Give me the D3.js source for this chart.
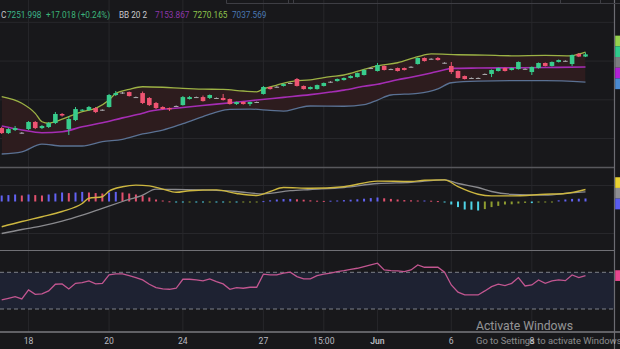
<!DOCTYPE html>
<html>
<head>
<meta charset="utf-8">
<script src="https://cdn.jsdelivr.net/npm/d3@7"></script>
<style>
  html, body { margin: 0; padding: 0; background: #18181b; overflow: hidden; }
  svg { display: block; }
  text { font-family: Roboto, "Noto Sans", sans-serif; }
</style>
</head>
<body>
<svg id="chart" width="620" height="349"></svg>
<script>
// ---------- price bars (one entry per bar) ----------
const opens = [6681,6642,6666,6645,6673,6728,6681,6689,6720,6790,
  6673,6743,6817,6821,6836,6823,6844,6937,6952,6960,
  6921,6952,6914,6875,6844,6836,6848,6859,6906,6921,
  6921,6914,6914,6914,6906,6867,6883,6867,6880,6945,
  6999,6997,7007,7028,7061,7007,6983,6983,7007,7036,
  7045,7053,7069,7076,7092,7142,7123,7162,7136,7146,
  7146,7152,7177,7224,7214,7224,7187,7162,7123,7084,
  7067,7069,7098,7100,7123,7146,7131,7138,7140,7115,
  7146,7185,7162,7193,7202,7177,7255,7234.98];
const highs = [6689,6681,6697,6650,6735,6735,6704,6728,6805,6797,
  6774,6844,6828,6852,6844,6826,6945,6968,6960,6964,
  6925,6964,6921,6883,6850,6840,6856,6929,6929,6925,
  6933,6941,6918,6945,6910,6886,6887,6886,6886,7007,
  7003,7005,7026,7034,7069,7011,7003,7018,7034,7044,
  7065,7073,7090,7111,7135,7150,7185,7166,7142,7150,
  7150,7160,7228,7228,7222,7231,7191,7193,7127,7088,
  7073,7073,7104,7135,7150,7150,7150,7197,7144,7158,
  7189,7189,7197,7212,7206,7251,7262,7266];
const lows = [6635,6635,6658,6638,6666,6673,6673,6681,6712,6770,
  6627,6735,6813,6813,6797,6815,6840,6929,6945,6925,
  6914,6867,6852,6828,6824,6813,6846,6855,6902,6914,
  6886,6906,6910,6894,6863,6860,6863,6852,6878,6940,
  6979,6995,7003,7026,7003,6979,6979,6979,7003,7032,
  7041,7049,7065,7072,7088,7138,7119,7127,7133,7119,
  7127,7150,7173,7196,7212,7204,7180,7100,7065,7057,
  7065,7063,7096,7076,7119,7119,7127,7134,7134,7092,
  7142,7158,7158,7189,7196,7162,7231,7231];
const closes = [6642,6673,6681,6642,6728,6681,6697,6720,6790,6778,
  6751,6828,6823,6844,6805,6819,6937,6952,6956,6929,
  6917,6875,6859,6836,6828,6826,6852,6921,6921,6919,
  6890,6937,6912,6898,6867,6883,6867,6883,6883,6999,
  6983,7001,7022,7030,7007,6983,6999,7014,7030,7040,
  7061,7069,7084,7107,7131,7146,7169,7131,7138,7123,
  7131,7156,7224,7200,7218,7208,7183,7115,7069,7061,
  7069,7067,7100,7131,7146,7123,7146,7193,7138,7154,
  7185,7162,7193,7208,7200,7247,7234.98,7251.998];

// ---------- Bollinger Bands (20, 2): [bar, value] ----------
const bbUpper = [[0,6924],[3,6873],[5,6795],[6,6730],[7,6718],[8,6730],[10,6769],[12,6808],
  [14,6834],[16,6898],[17,6950],[19,6981],[21,7001],[24,6997],[27,6989],[30,6983],[33,6980],
  [36,6968],[38,6962],[39,6985],[41,7014],[43,7040],[46,7055],[49,7079],[51,7092],[54,7136],
  [56,7162],[59,7187],[62,7234],[64,7255],[68,7249],[72,7246],[76,7241],[81,7244],[85,7241],
  [86,7255],[87,7270.165]];
const bbBasis = [[0,6697],[3,6666],[6,6645],[9,6652],[12,6691],[15,6722],[18,6760],[21,6795],
  [22,6811],[27,6840],[32,6866],[37,6893],[42,6919],[46,6940],[49,6960],[51,6975],[54,7005],
  [56,7020],[59,7055],[61,7075],[64,7108],[66,7132],[67,7143],[71,7146],[76,7148],[81,7150],
  [87,7153.867]];
const bbLower = [[0,6480],[3,6497],[6,6557],[9,6542],[12,6542],[15,6575],[18,6594],[21,6635],
  [24,6665],[27,6715],[30,6770],[32,6805],[34,6826],[37,6828],[40,6818],[42,6812],[44,6834],
  [46,6852],[51,6850],[54,6862],[56,6898],[58,6937],[62,6950],[65,6985],[67,7032],[71,7045],
  [76,7048],[81,7048],[87,7037.569]];

// ---------- MACD ----------
const macdLine = [[0,-63],[3,-50],[6,-38],[9,-25],[12,-5],[13,8],[15,12],[16,26],[18,37],[20,41],
  [22,39],[24,31],[26,23],[28,27],[32,29],[35,20],[38,15],[40,25],[42,35],[46,33],[51,37],
  [56,51],[61,50],[63,53],[66,54],[68,37],[71,18],[73,14],[76,14],[81,18],[84,20],[87,30]];
const signalLine = [[0,-80],[3,-70],[6,-61],[9,-49],[12,-34],[15,-17],[18,0],[21,16],[23,31],
  [26,30],[30,29],[35,25],[39,19],[43,27],[46,30],[51,35],[56,45],[61,48],[66,54],[68,45],
  [71,35],[73,25],[76,18],[81,16],[85,22],[87,24]];
const histogram = [15,16,17.5,15,17.5,16,15,17.5,20,22.5,
  21,22.5,24,22.5,21,20,22.5,24,22.5,20,
  17.5,15,10,5,2.5,0.5,-1,-1.5,-1,-1.5,
  -2,-1.5,-2,-2.5,-2,-2.5,-2,-1.5,-1,1,
  3,5,6,6.5,5.5,4.5,3,2,1.5,2,
  2.5,3.5,4.5,5.5,7,8.5,10,8,6.5,5,
  3.5,3,2.5,2.5,2,1,-1.5,-7.5,-14,-20,
  -20.5,-22.5,-19,-14,-11,-7.5,-7,-5,-3.5,-4,
  -2,-1.5,-0.5,3,5,6.5,7,7.5];

// ---------- RSI (14) ----------
const rsi = [39.9,41.7,43.5,41,50.8,46,46.4,49.7,57,57.3,
  51.9,58,58.7,60.6,57.3,58,67.1,68.2,68.2,66.4,
  64.2,61.7,57,53.3,51.9,51.5,52.6,62.4,62.4,61.7,
  60.6,62.8,59.8,57.3,51.5,53.3,52.6,53.7,53.7,67.9,
  67.1,67.1,69,70.1,65.3,62.8,62.8,66.4,67.9,69,
  70.7,71.8,73.3,74.4,76.2,78,79.9,72.6,71.8,71.5,
  70.7,72.6,78,75.5,75.5,75.5,70.1,56.2,48.3,45.3,
  45.3,45.3,49.7,54.4,57,55.5,58,64.2,55.1,56.2,
  61.7,58,60.6,61.7,60.9,67.1,64.2,66.4];
const rsiBands = [70, 30];

// ---------- axes ----------
const timeTickBars = [4, 16, 27, 39, 48, 56, 67, 79];
const timeTickLabels = ["18", "20", "24", "27", "15:00", "Jun", "6", "8"];
const priceTicks = [6600, 6900, 7200, 7500];
const macdTicks = [40, -80];

// ---------- layout ----------
const W = 620, H = 349;
const plotRight = 614;
const mainPane = { top: 0, bottom: 167 };
const macdPane = { top: 168, bottom: 250 };
const rsiPane = { top: 251, bottom: 332 };
const n = closes.length;

const C = {
  bg: "#18181b", grid: "#27272b", sep: "#58585d",
  up: "#38cc8c", down: "#ee5472", doji: "#a9a9ad",
  upper: "#9cb245", basis: "#a52db4", lower: "#5a7193", bandFill: "#2d1c1e",
  macd: "#cdb740", signal: "#8a8a8e",
  histUpRise: "#6262f2", histUpFall: "#e2506e", histDnFall: "#4fd2e6", histDnRise: "#8e9c30",
  rsi: "#c25690", rsiFill: "#1e2232", rsiBand: "#7d8089",
  text: "#b8bac0"
};

const svg = d3.select("#chart");
svg.append("rect").attr("width", W).attr("height", H).attr("fill", C.bg);

const defs = svg.append("defs");
function paneClip(id, p) {
  defs.append("clipPath").attr("id", id)
    .append("rect").attr("x", 0).attr("y", p.top).attr("width", plotRight).attr("height", p.bottom - p.top);
}
paneClip("clipMain", mainPane);
paneClip("clipMacd", macdPane);
paneClip("clipRsi", rsiPane);

// scales
const x = d3.scaleLinear().domain([0, n - 1]).range([1.7, 585.5]);
const yP = d3.scaleLinear().domain([6600, 7500]).range([138.5, 22.35]);
const yM = d3.scaleLinear().domain([-80, 40]).range([233.5, 185.5]);
const yR = d3.scaleLinear().domain([30, 70]).range([309, 272.3]);

// ---------- grid ----------
const grid = svg.append("g");
grid.selectAll("line.v").data(timeTickBars).join("line")
  .attr("x1", d => x(d)).attr("x2", d => x(d))
  .attr("y1", 0).attr("y2", rsiPane.bottom)
  .attr("stroke", C.grid).attr("stroke-width", 1);
grid.append("g").attr("clip-path", "url(#clipMain)")
  .selectAll("line").data(priceTicks).join("line")
  .attr("x1", 0).attr("x2", plotRight)
  .attr("y1", d => yP(d)).attr("y2", d => yP(d))
  .attr("stroke", C.grid);
grid.append("g").attr("clip-path", "url(#clipMacd)")
  .selectAll("line").data(macdTicks).join("line")
  .attr("x1", 0).attr("x2", plotRight)
  .attr("y1", d => yM(d)).attr("y2", d => yM(d))
  .attr("stroke", C.grid);

// ---------- main pane: Bollinger Bands ----------
const mainG = svg.append("g").attr("clip-path", "url(#clipMain)");
const curve = d3.curveMonotoneX;

// region above the lower band, used to cut the fill below the upper band
defs.append("clipPath").attr("id", "clipAboveLower")
  .append("path")
  .attr("d", d3.area().x(d => x(d[0])).y0(mainPane.top).y1(d => yP(d[1])).curve(curve)(bbLower));
mainG.append("path")
  .attr("clip-path", "url(#clipAboveLower)")
  .attr("d", d3.area().x(d => x(d[0])).y0(mainPane.bottom).y1(d => yP(d[1])).curve(curve)(bbUpper))
  .attr("fill", C.bandFill);

const bandLine = d3.line().x(d => x(d[0])).y(d => yP(d[1])).curve(curve);
mainG.append("path").attr("d", bandLine(bbLower)).attr("fill", "none").attr("stroke", C.lower).attr("stroke-width", 1.3);
mainG.append("path").attr("d", bandLine(bbUpper)).attr("fill", "none").attr("stroke", C.upper).attr("stroke-width", 1.3);
mainG.append("path").attr("d", bandLine(bbBasis)).attr("fill", "none").attr("stroke", C.basis).attr("stroke-width", 1.6);

// ---------- main pane: candles ----------
const bars = d3.range(n);
const candleColor = i => Math.abs(closes[i] - opens[i]) <= 5 ? C.doji : (closes[i] >= opens[i] ? C.up : C.down);
const bodyW = 4.6;
mainG.append("g").selectAll("line").data(bars).join("line")
  .attr("x1", i => x(i)).attr("x2", i => x(i))
  .attr("y1", i => yP(highs[i])).attr("y2", i => yP(lows[i]))
  .attr("stroke", candleColor).attr("stroke-width", 1);
mainG.append("g").selectAll("rect").data(bars).join("rect")
  .attr("x", i => x(i) - bodyW / 2)
  .attr("width", bodyW)
  .attr("y", i => yP(Math.max(opens[i], closes[i])))
  .attr("height", i => Math.max(1, Math.abs(yP(opens[i]) - yP(closes[i]))))
  .attr("fill", candleColor);

// ---------- MACD pane ----------
const macdG = svg.append("g").attr("clip-path", "url(#clipMacd)");
const histColor = (v, i) => {
  const prev = i > 0 ? histogram[i - 1] : -Infinity;
  if (v >= 0) return v >= prev ? C.histUpRise : C.histUpFall;
  return v <= prev ? C.histDnFall : C.histDnRise;
};
macdG.append("g").selectAll("rect").data(histogram).join("rect")
  .attr("x", (d, i) => x(i) - 1)
  .attr("width", 2)
  .attr("y", d => Math.min(yM(d), yM(0)))
  .attr("height", d => Math.max(1, Math.abs(yM(d) - yM(0))))
  .attr("fill", histColor);
const macdPath = d3.line().x(d => x(d[0])).y(d => yM(d[1])).curve(curve);
macdG.append("path").attr("d", macdPath(signalLine)).attr("fill", "none").attr("stroke", C.signal).attr("stroke-width", 1.3);
macdG.append("path").attr("d", macdPath(macdLine)).attr("fill", "none").attr("stroke", C.macd).attr("stroke-width", 1.4);

// ---------- RSI pane ----------
const rsiG = svg.append("g").attr("clip-path", "url(#clipRsi)");
rsiG.append("rect")
  .attr("x", 0).attr("width", plotRight)
  .attr("y", yR(rsiBands[0])).attr("height", yR(rsiBands[1]) - yR(rsiBands[0]))
  .attr("fill", C.rsiFill);
rsiG.selectAll("line.band").data(rsiBands).join("line")
  .attr("x1", 0).attr("x2", plotRight)
  .attr("y1", d => yR(d)).attr("y2", d => yR(d))
  .attr("stroke", C.rsiBand).attr("stroke-width", 1).attr("stroke-dasharray", "4,3");
rsiG.append("path")
  .attr("d", d3.line().x((d, i) => x(i)).y(d => yR(d))(rsi))
  .attr("fill", "none").attr("stroke", C.rsi).attr("stroke-width", 1.3);

// ---------- pane separators and right edge ----------
svg.append("line").attr("x1", 0).attr("x2", plotRight).attr("y1", 167.5).attr("y2", 167.5).attr("stroke", C.sep).attr("stroke-width", 1.5);
svg.append("line").attr("x1", 0).attr("x2", plotRight).attr("y1", 250.5).attr("y2", 250.5).attr("stroke", "#707075").attr("stroke-width", 1.2);
svg.append("line").attr("x1", 0).attr("x2", W).attr("y1", 332).attr("y2", 332).attr("stroke", "#7a7a80").attr("stroke-width", 1.4);
svg.append("line").attr("x1", plotRight + 0.5).attr("x2", plotRight + 0.5).attr("y1", 0).attr("y2", H).attr("stroke", "#6c6c72").attr("stroke-width", 1.2);

// toolbar frame along the top edge
svg.append("path")
  .attr("d", "M226.5,0V3.5H620M288.5,0V3.5M293.5,0V3.5M560.5,0V3.5M600.5,0V3.5")
  .attr("fill", "none").attr("stroke", "#3e3e44").attr("stroke-width", 1);

// ---------- time axis ----------
svg.append("g").selectAll("text").data(timeTickBars).join("text")
  .attr("x", d => x(d)).attr("y", 344)
  .attr("text-anchor", "middle")
  .attr("font-size", 8.6)
  .attr("font-weight", (d, i) => timeTickLabels[i] === "Jun" ? 600 : 400)
  .attr("fill", C.text)
  .text((d, i) => timeTickLabels[i]);

// ---------- right-scale value labels (stacked around their values) ----------
function stackLabels(items, h) {
  const sorted = items.slice().sort((a, b) => a.y - b.y);
  const mean = d3.mean(sorted, d => d.y);
  sorted.forEach((d, k) => { d.cy = mean + (k - (sorted.length - 1) / 2) * h; });
  return sorted;
}
const last = n - 1;
const lastOf = arr => arr[arr.length - 1][1];
const mainLabels = stackLabels([
  { y: yP(lastOf(bbUpper)), color: "#95d24e" },
  { y: yP(closes[last]), color: "#2fcb8c" },
  { y: yP(closes[last - 1]), color: "#7c7c80" },
  { y: yP(lastOf(bbBasis)), color: "#b21fd6" },
  { y: yP(lastOf(bbLower)), color: "#4a8ad2" }
], 10.7);
const macdLabels = stackLabels([
  { y: yM(lastOf(macdLine)), color: "#ead232" },
  { y: yM(lastOf(signalLine)), color: "#8e8e92" },
  { y: yM(histogram[last]), color: "#5a5cf0" }
], 10.7);
const rsiLabels = [{ cy: yR(rsi[last]), color: "#e8468e" }];
svg.append("g").selectAll("rect").data([...mainLabels, ...macdLabels, ...rsiLabels]).join("rect")
  .attr("x", plotRight + 1.2).attr("width", 10)
  .attr("y", d => d.cy - 5.35).attr("height", 10.7)
  .attr("fill", d => d.color);

// ---------- legend ----------
const f3 = d3.format(".3f");
const chg = closes[last] - closes[last - 1];
const pct = chg / closes[last - 1] * 100;
const sign = v => (v >= 0 ? "+" : "");
const legendItems = [
  { x: 1, color: "#c4c4c8", text: "C" },
  { x: 7, color: "#3cb489", text: f3(closes[last]) },
  { x: 46, color: "#3cb47a", text: `${sign(chg)}${f3(chg)} (${sign(pct)}${pct.toFixed(2)}%)` },
  { x: 119, color: "#c8c8cc", text: "BB 20 2" },
  { x: 155, color: "#8d36a8", text: f3(lastOf(bbBasis)) },
  { x: 193, color: "#8fc44c", text: f3(lastOf(bbUpper)) },
  { x: 232, color: "#4a78b4", text: f3(lastOf(bbLower)) }
];
svg.append("g").selectAll("text").data(legendItems).join("text")
  .attr("x", d => d.x).attr("y", 18)
  .attr("font-size", 8.2)
  .attr("fill", d => d.color)
  .text(d => d.text);

// ---------- system overlay text ----------
svg.append("text").attr("x", 476).attr("y", 330)
  .attr("font-family", "'Open Sans', 'Noto Sans', sans-serif")
  .attr("font-size", 12.2).attr("fill", "rgba(255,255,255,0.55)")
  .text("Activate Windows");
svg.append("text").attr("x", 476).attr("y", 344)
  .attr("font-family", "'Open Sans', 'Noto Sans', sans-serif")
  .attr("font-size", 9.4).attr("fill", "rgba(255,255,255,0.5)")
  .text("Go to Settings to activate Windows.");
</script>
</body>
</html>
